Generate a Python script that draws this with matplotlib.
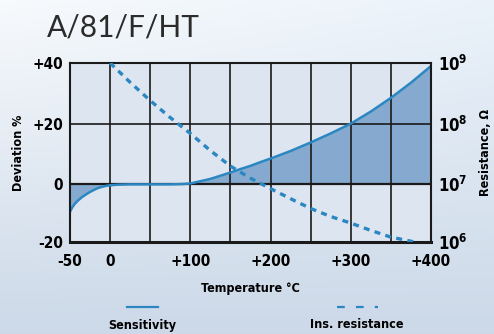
import numpy as np
import matplotlib
matplotlib.use("Agg")
import matplotlib.pyplot as plt
from matplotlib.lines import Line2D

# ---- data ----
temps_sens = [-50, -47, -44, -40, -35, -30, -25, -20, -15, -10, -5, 0, 10, 25, 50,
              75, 90, 100, 112, 125, 137, 150, 162, 175, 187, 200, 225, 250,
              275, 300, 325, 350, 375, 400]
sensitivity = [-9.0, -7.5, -6.4, -5.3, -4.2, -3.3, -2.5, -1.8, -1.2, -0.8, -0.5, -0.3,
               -0.1, 0.0, 0.0, 0.0, 0.1, 0.3, 1.0, 1.8, 2.8, 3.9, 5.0, 6.1, 7.3, 8.5,
               11.0, 13.8, 16.8, 20.0, 24.0, 28.5, 33.5, 39.0]

temps_res = [0, 25, 50, 75, 100, 125, 150, 175, 200, 225, 250, 275, 300, 325, 350, 380]
resistance = [1.0e9, 4.8e8, 2.4e8, 1.26e8, 6.9e7, 3.6e7, 2.0e7, 1.26e7, 8.5e6,
              5.8e6, 4.0e6, 2.95e6, 2.3e6, 1.74e6, 1.35e6, 1.12e6]

x_ticks = [-50, 0, 100, 200, 300, 400]
x_labels = ["-50", "0", "+100", "+200", "+300", "+400"]
x_grid = [0, 50, 100, 150, 200, 250, 300, 350]

LINE_BLUE = "#2b87c1"
FILL_BLUE = "#86aacf"
PLOT_BG = "#dde5f1"

plt.rcParams["font.family"] = ["DejaVu Sans"]
plt.rcParams["font.stretch"] = "condensed"
plt.rcParams["font.weight"] = "bold"
plt.rcParams["axes.labelweight"] = "bold"

fig = plt.figure(figsize=(4.94, 3.34), dpi=100)

# soft sky-like background
bg = fig.add_axes([0, 0, 1, 1], zorder=-10)
yy, xx = np.mgrid[0:1:100j, 0:1:100j]
top = np.array([0.97, 0.98, 0.99])
bot = np.array([0.80, 0.85, 0.91])
right_tint = np.array([-0.05, -0.03, -0.01])
img = top[None, None, :] * (1 - yy[..., None]) + bot[None, None, :] * yy[..., None]
img = img + right_tint[None, None, :] * xx[..., None] * (1 - yy[..., None])
bg.imshow(np.clip(img, 0, 1), aspect="auto", extent=[0, 1, 0, 1], origin="upper")
bg.axis("off")

ax = fig.add_axes([70 / 494, 92 / 334, 361 / 494, 179 / 334])
ax.set_facecolor(PLOT_BG)

ylo, yhi = -19, 40
ax.set_xlim(-50, 400)
ax.set_ylim(ylo, yhi)

ax.fill_between(temps_sens, sensitivity, 0, color=FILL_BLUE, zorder=1, linewidth=0)
for xg in x_grid:
    ax.axvline(xg, color="#1a1a1a", linewidth=1.2, zorder=2)
ax.axhline(20, color="#1a1a1a", linewidth=1.2, zorder=2)
ax.axhline(0, color="#1a1a1a", linewidth=1.6, zorder=2)
ax.plot(temps_sens, sensitivity, color=LINE_BLUE, linewidth=1.8, zorder=4)

ax.set_xticks(x_ticks)
ax.set_xticklabels(x_labels)
ax.set_yticks([ylo, 0, 20, 40])
ax.set_yticklabels(["-20", "0", "+20", "+40"])
ax.tick_params(length=0, labelsize=11, pad=5)
ax.tick_params(axis="x", pad=9)
for side in ["left", "right", "top"]:
    ax.spines[side].set_linewidth(1.5)
ax.spines["bottom"].set_linewidth(2.2)
for s in ax.spines.values():
    s.set_color("#1a1a1a")
    s.set_zorder(5)

ax.set_ylabel("Deviation %", fontsize=9, labelpad=5)
ax.set_xlabel("Temperature °C", fontsize=9, labelpad=9)

# resistance on a log scale, decades line up with the 20 % grid
ax2 = ax.twinx()
ax2.set_yscale("log")
ax2.set_ylim(10 ** (7 + ylo / 20), 10 ** (7 + yhi / 20))
ax2.plot(temps_res, resistance, color=LINE_BLUE, linewidth=2.4,
         linestyle=(0, (1.8, 1.6)), zorder=4)
ax2.set_yticks([10 ** (7 + ylo / 20), 1e7, 1e8, 1e9])
ax2.set_yticklabels(["10$^{6}$", "10$^{7}$", "10$^{8}$", "10$^{9}$"])
ax2.minorticks_off()
ax2.tick_params(length=0, labelsize=12, pad=5)
ax2.set_ylabel("Resistance, Ω", fontsize=9, labelpad=8)
for s in ax2.spines.values():
    s.set_visible(False)

fig.text(47 / 494, 1 - 28 / 334, "A/81/F/HT", fontsize=21.5, color="#2b2b2b",
         family=["Lato", "DejaVu Sans"], fontweight="normal", fontstretch="normal",
         va="center", ha="left")

# legend below the chart
fig.add_artist(Line2D([127 / 494, 158 / 494], [1 - 307 / 334] * 2,
                      color=LINE_BLUE, linewidth=1.6))
fig.text(142 / 494, 1 - 325 / 334, "Sensitivity", fontsize=9, ha="center", va="center")
fig.add_artist(Line2D([337 / 494, 378 / 494], [1 - 307 / 334] * 2,
                      color=LINE_BLUE, linewidth=1.6, linestyle=(0, (3.5, 5))))
fig.text(357 / 494, 1 - 325 / 334, "Ins. resistance", fontsize=9, ha="center", va="center")

fig.savefig("out.png", dpi=100)
